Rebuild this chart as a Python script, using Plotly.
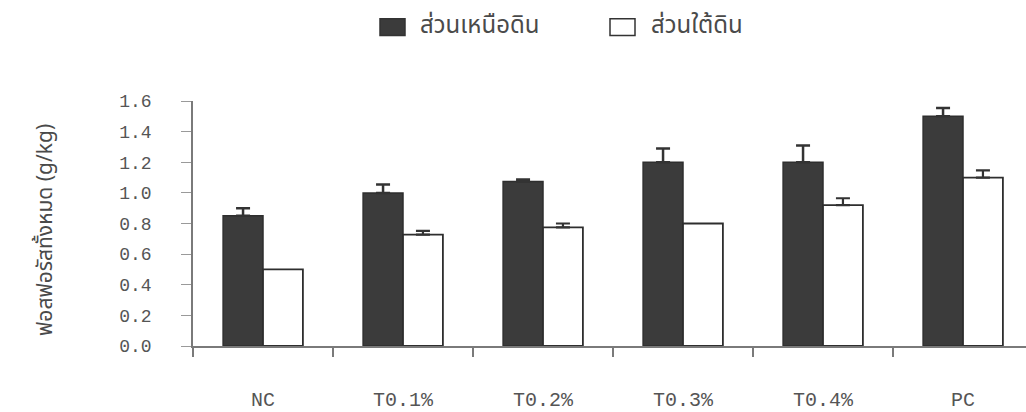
import plotly.graph_objects as go

# Phosphorus content by treatment
categories = ["NC", "T0.1%", "T0.2%", "T0.3%", "T0.4%", "PC"]
above_ground = [0.85, 1.00, 1.075, 1.20, 1.20, 1.50]
above_err = [0.05, 0.055, 0.012, 0.09, 0.11, 0.055]
below_ground = [0.50, 0.727, 0.775, 0.80, 0.92, 1.10]
below_err = [0.0, 0.025, 0.025, 0.0, 0.045, 0.047]
y_ticks = [0.0, 0.2, 0.4, 0.6, 0.8, 1.0, 1.2, 1.4, 1.6]

series_names = ["ส่วนเหนือดิน", "ส่วนใต้ดิน"]
y_title = "ฟอสฟอรัสทั้งหมด (g/kg)"

DARK = "#3b3b3b"
EDGE = "#2e2e2e"
TEXT = "#4a4a4a"
AXIS = "#7a7a7a"
thai_font = "Noto Sans Thai, Noto Serif Thai, Garuda, Loma, Tlwg Typo, sans-serif"

fig = go.Figure()
fig.add_trace(go.Bar(
    x=categories, y=above_ground, name=series_names[0], offsetgroup="above",
    marker=dict(color=DARK, line=dict(color=EDGE, width=1.5)),
    error_y=dict(type="data", array=above_err, arrayminus=[0] * len(above_err),
                 symmetric=False, color="#333333", thickness=2.5, width=7),
    showlegend=False,
))

# Below-ground bars: those with a reported error get an error bar,
# the rest are drawn in the same slot without one.
with_err = [i for i, e in enumerate(below_err) if e > 0]
no_err = [i for i, e in enumerate(below_err) if e <= 0]
fig.add_trace(go.Bar(
    x=[categories[i] for i in with_err], y=[below_ground[i] for i in with_err],
    name=series_names[1], offsetgroup="below",
    marker=dict(color="white", line=dict(color=EDGE, width=1.8)),
    error_y=dict(type="data", array=[below_err[i] for i in with_err],
                 arrayminus=[0] * len(with_err),
                 symmetric=False, color="#333333", thickness=2.2, width=7),
    showlegend=False,
))
fig.add_trace(go.Bar(
    x=[categories[i] for i in no_err], y=[below_ground[i] for i in no_err],
    name=series_names[1], offsetgroup="below",
    marker=dict(color="white", line=dict(color=EDGE, width=1.8)),
    showlegend=False,
))

# Hand-drawn legend row above the plot
legend_items = [
    (series_names[0], DARK, 380, 418),
    (series_names[1], "white", 610, 649),
]
shapes = []
annotations = []
for name, fill, sx, tx in legend_items:
    shapes.append(dict(type="rect", xref="paper", yref="paper",
                       x0=(sx - 193) / 833, x1=(sx + 25 - 193) / 833,
                       y0=(348 - 35) / 247, y1=(348 - 18) / 247,
                       fillcolor=fill, line=dict(color="#333333", width=1.5)))
    annotations.append(dict(text=name, xref="paper", yref="paper",
                            x=(tx - 193) / 833, y=(348 - 25) / 247,
                            xanchor="left", yanchor="middle", showarrow=False,
                            font=dict(family=thai_font, size=24, color=TEXT)))

annotations.append(dict(text=y_title, xref="paper", yref="paper",
                        x=(46 - 193) / 833, y=(348 - 231) / 247,
                        xanchor="center", yanchor="middle", textangle=-90,
                        showarrow=False,
                        font=dict(family=thai_font, size=21, color=TEXT)))

fig.update_layout(
    width=1026, height=412,
    margin=dict(l=193, r=0, t=101, b=64),
    paper_bgcolor="white", plot_bgcolor="white",
    barmode="group", bargap=0.43, bargroupgap=0,
    shapes=shapes, annotations=annotations,
    showlegend=False,
)
fig.update_xaxes(
    type="category", categoryorder="array", categoryarray=categories,
    range=[-0.5, 5.45],
    showline=True, linecolor=AXIS, linewidth=1.5,
    ticks="outside", tickson="boundaries", ticklen=9, tickcolor=AXIS, tickwidth=1.5,
    ticklabelstandoff=34,
    tickfont=dict(family="Liberation Mono, monospace", size=20, color="#555555"),
    showgrid=False, zeroline=False,
)
fig.update_yaxes(
    range=[0, 1.6], tickvals=y_ticks, ticktext=[f"{v:.1f}" for v in y_ticks],
    showline=True, linecolor=AXIS, linewidth=1.5,
    ticks="outside", ticklen=10, tickcolor="#9a9a9a", tickwidth=1.2,
    ticklabelstandoff=26,
    tickfont=dict(family="Liberation Mono, monospace", size=18, color="#555555"),
    showgrid=False, zeroline=False,
)

fig.write_html("out.html")
